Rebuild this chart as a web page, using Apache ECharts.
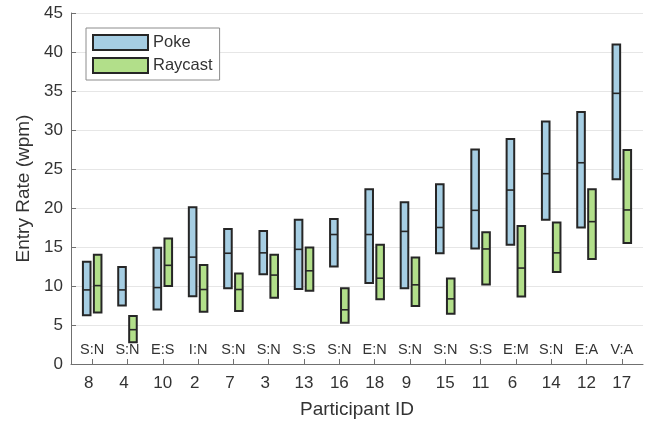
<!DOCTYPE html>
<html><head><meta charset="utf-8">
<script src="https://cdn.jsdelivr.net/npm/echarts@6/dist/echarts.min.js"></script>
<style>html,body{margin:0;padding:0;background:#fff}#c{width:652px;height:425px}</style>
</head><body><div id="c"></div>
<script>
var participantIds = ['8','4','10','2','7','3','13','16','18','9','15','11','6','14','12','17'];
var annotations = ['S:N','S:N','E:S','I:N','S:N','S:N','S:S','S:N','E:N','S:N','S:N','S:S','E:M','S:N','E:A','V:A'];
// [low, median, high]
var pokeLow    = [6.25, 7.5, 7.0, 8.7, 9.7, 11.5, 9.6, 12.5, 10.4, 9.7, 14.2, 14.8, 15.3, 18.5, 17.5, 23.7];
var pokeMedian = [9.5, 9.5, 9.8, 13.7, 14.2, 14.25, 14.7, 16.6, 16.6, 17.0, 17.5, 19.7, 22.3, 24.4, 25.8, 34.7];
var pokeHigh   = [13.1, 12.45, 14.9, 20.1, 17.3, 17.05, 18.5, 18.6, 22.4, 20.75, 23.05, 27.5, 28.85, 31.1, 32.3, 40.95];
var rayLow     = [6.6, 2.8, 10.0, 6.7, 6.8, 8.5, 9.4, 5.3, 8.3, 7.45, 6.45, 10.2, 8.65, 11.8, 13.45, 15.5];
var rayMedian  = [10.05, 4.4, 12.65, 9.55, 9.55, 11.4, 11.95, 6.95, 11.0, 10.15, 8.35, 14.75, 12.3, 14.25, 18.25, 19.75];
var rayHigh    = [14.0, 6.15, 16.1, 12.7, 11.6, 14.0, 14.95, 9.7, 15.3, 13.65, 10.95, 16.9, 17.7, 18.15, 22.4, 27.45];
var yTicks = [0,5,10,15,20,25,30,35,40,45];
var annotationY = 1.8;

var pos = participantIds.map(function(_, i){ return i + 1; });
function build(lo, md, hi){ return pos.map(function(p, i){ return [p, lo[i], md[i], hi[i]]; }); }
var edge = '#262626';
var textColor = '#333333';
var font = 'Liberation Sans, Arial, Helvetica, sans-serif';
function makeRender(offset, width, color){
  return function(params, api){
    var x = api.value(0) + offset;
    var lo = api.coord([x, api.value(1)]);
    var hi = api.coord([x, api.value(3)]);
    var md = api.coord([x, api.value(2)]);
    var w = api.size([width, 0])[0];
    return {type:'group', children:[
      {type:'rect', shape:{x:lo[0]-w/2, y:hi[1], width:w, height:lo[1]-hi[1]},
       style:{fill:color, stroke:edge, lineWidth:2}},
      {type:'line', shape:{x1:lo[0]-w/2, y1:md[1], x2:lo[0]+w/2, y2:md[1]},
       style:{stroke:edge, lineWidth:1.6}}
    ]};
  };
}
var blue = '#a6cee3', green = '#b2df8a';
var chart = echarts.init(document.getElementById('c'), null, {renderer:'canvas'});
chart.setOption({
  animation:false,
  textStyle:{fontFamily:font},
  grid:{left:71, right:9, top:13, bottom:61},
  legend:{
    data:['Poke','Raycast'], orient:'vertical', left:86, top:28,
    icon:'rect', itemWidth:55, itemHeight:15, itemGap:6,
    padding:[6,7,6,6], borderColor:'#8c8c8c', borderWidth:1, backgroundColor:'#fff',
    textStyle:{fontSize:16.5, color:textColor, fontFamily:font},
    itemStyle:{borderColor:edge, borderWidth:2}
  },
  xAxis:{
    type:'value', min:0.4, max:16.6,
    name:'Participant ID', nameLocation:'middle', nameGap:36,
    nameTextStyle:{fontSize:19, color:textColor},
    axisLine:{show:true, lineStyle:{color:'#707070', width:1}},
    axisTick:{show:true, inside:true, length:5, customValues:pos, lineStyle:{color:'#707070'}},
    axisLabel:{customValues:pos, fontSize:17, color:textColor, margin:11,
      formatter:function(v){
        var s = participantIds[Math.round(v)-1];
        return s.length === 1 ? '{s|' + s + '}' : s;
      },
      rich:{s:{fontSize:17, color:textColor, padding:[0,7,0,0]}}},
    splitLine:{show:false}
  },
  yAxis:{
    type:'value', min:0, max:45, interval:5,
    name:'Entry Rate (wpm)', nameLocation:'middle', nameGap:34,
    nameTextStyle:{fontSize:19, color:textColor},
    axisLine:{show:true, lineStyle:{color:'#707070', width:1}},
    axisTick:{show:true, inside:true, length:5, customValues:yTicks, lineStyle:{color:'#707070'}},
    axisLabel:{fontSize:17, color:textColor, margin:8},
    splitLine:{show:true, lineStyle:{color:'#e6e6e6', width:1}}
  },
  series:[
    {name:'Poke', type:'custom', data:build(pokeLow, pokeMedian, pokeHigh),
     itemStyle:{color:blue, borderColor:edge, borderWidth:2},
     renderItem:makeRender(-0.155, 0.215, blue), z:3},
    {name:'Raycast', type:'custom', data:build(rayLow, rayMedian, rayHigh),
     itemStyle:{color:green, borderColor:edge, borderWidth:2},
     renderItem:makeRender(0.155, 0.215, green), z:3},
    {name:'labels', type:'custom', silent:true, z:4,
     data:pos.map(function(p, i){ return [p, annotationY, i]; }),
     renderItem:function(params, api){
       var c = api.coord([api.value(0), api.value(1)]);
       return {type:'text', x:c[0], y:c[1],
         style:{text:annotations[api.value(2)], fill:textColor, align:'center',
           verticalAlign:'middle', font:'14.5px ' + font}};
     }}
  ]
});
</script></body></html>
